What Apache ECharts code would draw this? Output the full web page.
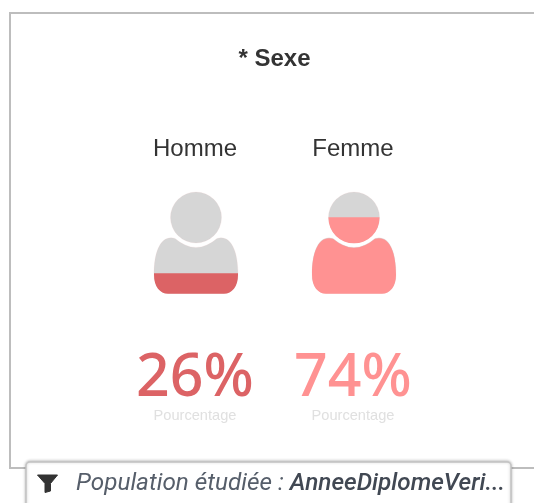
<!DOCTYPE html>
<html><head><meta charset="utf-8">
<style>html,body{margin:0;padding:0;background:#fff}#c{width:534px;height:503px}</style>
<script src="https://cdn.jsdelivr.net/npm/echarts@6/dist/echarts.min.js"></script>
</head><body><div id="c"></div>
<script>
const categories = ['Homme', 'Femme'];
const percentages = [26, 74];
const fillColors = ['#dc6365', '#ff9292'];
const subLabel = 'Pourcentage';
const titleText = '* Sexe';
const filterLabel = 'Population étudiée : ';
const filterValue = 'AnneeDiplomeVeri...';

const person = 'path://M0 0L0 0ZM0 117L0 117Z' +
  'M25.5 31A25.5 25.5 0 1 1 -25.5 31A25.5 25.5 0 1 1 25.5 31Z' +
  'M-21 52Q0 70 21 52C35 48 42 65 42 88C42 100 36 107 28 107L-28 107C-36 107 -42 100 -42 88C-42 65 -35 48 -21 52Z';

const chart = echarts.init(document.getElementById('c'), null, {renderer: 'canvas'});
chart.setOption({
  animation: false,
  backgroundColor: '#fff',
  title: {
    text: titleText, left: 269.5, top: 42, textAlign: 'center',
    textStyle: {fontFamily: 'Liberation Sans', fontWeight: 'bold', fontSize: 24, color: '#333'}
  },
  grid: {left: 117, top: 187, width: 316, height: 116.7},
  xAxis: [
    {type: 'category', position: 'top', data: categories,
     axisLine: {show: false}, axisTick: {show: false},
     axisLabel: {margin: 26, padding: [0, 2, 0, 0], fontFamily: 'Liberation Sans', fontSize: 24, color: '#333', interval: 0}},
    {type: 'category', position: 'bottom', data: categories,
     axisLine: {show: false}, axisTick: {show: false},
     axisLabel: {
       margin: 45, padding: [0, 2, 0, 0], interval: 0,
       formatter: (v, i) => `{p${i}|${percentages[i]}%}\n{s|${subLabel}}`,
       rich: {
         p0: {fontFamily: 'Noto Sans', fontWeight: 500, fontSize: 59, color: fillColors[0], lineHeight: 60},
         p1: {fontFamily: 'Noto Sans', fontWeight: 500, fontSize: 59, color: fillColors[1], lineHeight: 60},
         s: {fontFamily: 'Liberation Sans', fontSize: 14.6, color: '#e0e0e0', lineHeight: 14}
       }
     }}
  ],
  yAxis: {type: 'value', min: 0, max: 100, show: false},
  series: [
    {type: 'pictorialBar', xAxisIndex: 0, barWidth: 84, barGap: '-100%', z: 1,
     symbol: person, symbolSize: [84, 116.7], symbolPosition: 'start',
     itemStyle: {color: '#d6d6d6', borderColor: '#ecc4c6', borderWidth: 0.7},
     data: categories.map(() => 100), silent: true},
    {type: 'pictorialBar', xAxisIndex: 0, barWidth: 84, barGap: '-100%', z: 2,
     symbol: person, symbolSize: [84, 116.7], symbolPosition: 'start', symbolClip: true,
     data: percentages.map((v, i) => ({value: v, itemStyle: {color: fillColors[i]}})), silent: true}
  ],
  graphic: [
    {type: 'rect', z: 0, silent: true,
     shape: {x: 10, y: 13, width: 600, height: 455},
     style: {fill: 'none', stroke: '#bdbdbd', lineWidth: 2}},
    {type: 'rect', z: 10, silent: true,
     shape: {x: 26, y: 462, width: 485, height: 70, r: 4},
     style: {fill: '#fff', stroke: '#c4c4c4', lineWidth: 1.5, shadowBlur: 3, shadowColor: 'rgba(0,0,0,0.25)', shadowOffsetY: -0.5}},
    {type: 'polygon', z: 11, silent: true,
     shape: {points: [[37.5, 475], [57.5, 475], [50.5, 483.5], [50.5, 491], [45, 492.5], [45, 483.5]]},
     style: {fill: '#333', stroke: '#333', lineWidth: 1, lineJoin: 'round'}},
    {type: 'text', z: 11, silent: true, x: 76, y: 484,
     style: {
       text: `{a|${filterLabel}}{b|${filterValue}}`,
       verticalAlign: 'middle', align: 'left',
       rich: {
         a: {fontFamily: 'Roboto', fontStyle: 'italic', fontSize: 24.3, fill: '#565e6a'},
         b: {fontFamily: 'Roboto', fontStyle: 'italic', fontWeight: 500, fontSize: 24.3, fill: '#414853'}
       }
     }}
  ]
});
</script></body></html>
